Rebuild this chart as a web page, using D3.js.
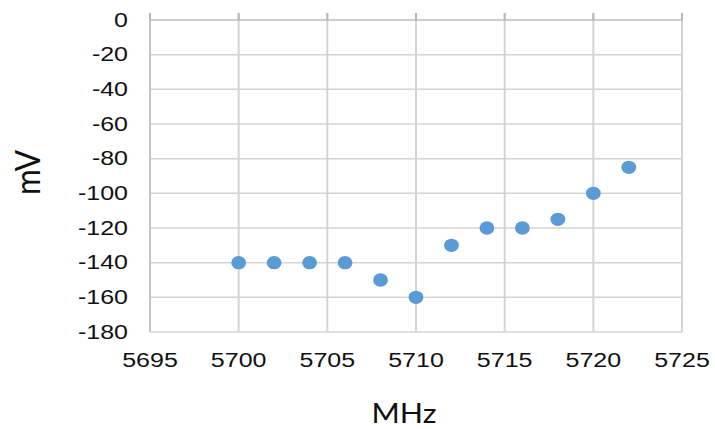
<!DOCTYPE html>
<html>
<head>
<meta charset="utf-8">
<script src="https://cdn.jsdelivr.net/npm/d3@7"></script>
<style>
  html, body { margin: 0; padding: 0; background: #fff; }
  svg { display: block; }
</style>
</head>
<body>
<script>
const frequencies = [5700, 5702, 5704, 5706, 5708, 5710, 5712, 5714, 5716, 5718, 5720, 5722];
const voltages = [-140, -140, -140, -140, -150, -160, -130, -120, -120, -115, -100, -85];
const xTicks = [5695, 5700, 5705, 5710, 5715, 5720, 5725];
const yTicks = [0, -20, -40, -60, -80, -100, -120, -140, -160, -180];
const xTitle = "MHz";
const yTitle = "mV";

(function () {
const W = 715, H = 429;
const pl = 150, pr = 682, pt = 20, pb = 332;
const stretch = 1.25;

const svg = d3.select("body").append("svg").attr("width", W).attr("height", H);

const x = d3.scaleLinear().domain([5695, 5725]).range([pl, pr]);
const y = d3.scaleLinear().domain([-180, 0]).range([pb, pt]);

// horizontal gridlines
svg.append("g").selectAll("line").data(yTicks.filter(d => d !== 0)).join("line")
  .attr("x1", pl).attr("x2", pr)
  .attr("y1", d => y(d)).attr("y2", d => y(d))
  .attr("stroke", "#d4d4d4").attr("stroke-width", 1.5);

// vertical gridlines (with upward tick extension)
svg.append("g").selectAll("line").data(xTicks.filter(d => d !== 5695)).join("line")
  .attr("x1", d => x(d)).attr("x2", d => x(d))
  .attr("y1", pt - 7).attr("y2", pb)
  .attr("stroke", "#d4d4d4").attr("stroke-width", 2);

// left axis line
svg.append("line").attr("x1", pl).attr("x2", pl).attr("y1", pt - 7).attr("y2", pb)
  .attr("stroke", "#c4c4c4").attr("stroke-width", 2);

// x axis line at y=0 (top) with ticks
svg.append("line").attr("x1", pl).attr("x2", pr).attr("y1", y(0)).attr("y2", y(0))
  .attr("stroke", "#bcbcbc").attr("stroke-width", 1.5);
svg.append("g").selectAll("line").data(xTicks).join("line")
  .attr("x1", d => x(d)).attr("x2", d => x(d))
  .attr("y1", pt - 7).attr("y2", pt)
  .attr("stroke", "#b8b8b8").attr("stroke-width", 2);

// y tick labels
svg.append("g").selectAll("text").data(yTicks).join("text")
  .attr("transform", d => `translate(${pl - 22},${y(d)}) scale(${stretch},1)`)
  .attr("text-anchor", "end")
  .attr("dominant-baseline", "central")
  .attr("font-family", "Liberation Sans, Arial, sans-serif")
  .attr("font-size", 20)
  .attr("fill", "#111")
  .text(d => d);

// x tick labels
svg.append("g").selectAll("text").data(xTicks).join("text")
  .attr("transform", d => `translate(${x(d)},367) scale(${stretch},1)`)
  .attr("text-anchor", "middle")
  .attr("font-family", "Liberation Sans, Arial, sans-serif")
  .attr("font-size", 20)
  .attr("fill", "#111")
  .text(d => d);

// points
svg.append("g").selectAll("ellipse").data(frequencies).join("ellipse")
  .attr("cx", d => x(d))
  .attr("cy", (d, i) => y(voltages[i]))
  .attr("rx", 7.4).attr("ry", 6.7)
  .attr("fill", "#5b9bd5");

// axis titles
svg.append("text")
  .attr("x", 404).attr("y", 423)
  .attr("text-anchor", "middle")
  .attr("font-family", "Lato, Open Sans, sans-serif")
  .attr("font-size", 26)
  .attr("textLength", 65).attr("lengthAdjust", "spacingAndGlyphs")
  .attr("fill", "#111")
  .text(xTitle);

svg.append("text")
  .attr("transform", `translate(40,172.5) scale(${stretch},1) rotate(-90)`)
  .attr("text-anchor", "middle")
  .attr("font-family", "Lato, Open Sans, sans-serif")
  .attr("font-size", 28)
  .attr("textLength", 45).attr("lengthAdjust", "spacingAndGlyphs")
  .attr("fill", "#111")
  .text(yTitle);
})();
</script>
</body>
</html>
